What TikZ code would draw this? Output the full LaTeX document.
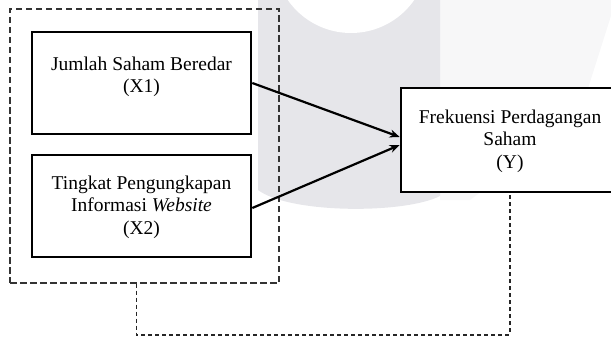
\documentclass[tikz,border=0pt]{standalone}
\usepackage{fontspec}
\setmainfont{Liberation Serif}
\usetikzlibrary{arrows.meta,calc}
\definecolor{wmgray}{HTML}{E6E6EA}
\definecolor{wmlight}{HTML}{F7F7F8}
\tikzset{
  varbox/.style={draw=black, line width=2.6pt, fill=white, rectangle, inner sep=0pt,
    minimum width=219pt, minimum height=102pt},
  grpbox/.style={draw=black!80, line width=1.2pt, dash pattern=on 6.5pt off 3.5pt, rectangle, inner sep=0pt},
  lbl/.style={align=center, font=\fontsize{19.5pt}{22.5pt}\selectfont, inner sep=0pt, text=black},
  arr/.style={line width=2.2pt, black, -{Stealth[length=10pt,width=8pt]}},
  linkline/.style={draw=black!85, line width=1.8pt, dash pattern=on 4pt off 3pt}
}
\begin{document}
\begin{tikzpicture}[x=1pt,y=-1pt]
\useasboundingbox (0,0) rectangle (611,337);
% faint watermark
\fill[wmlight] (440,0) -- (616,0) -- (578,120) -- (470,200) -- (440,200) -- cycle;
\fill[wmgray] (258,0) -- (258,190) .. controls (290,214) and (405,214) .. (440,196) -- (440,0) -- cycle;
\fill[white] (351,-44) circle (77);
% group
\node[grpbox, minimum width=269pt, minimum height=274pt] (grp) at (144.5,146) {};
\node[varbox] (b1) at (141.5,83) {};
\node[lbl] (t1) at (141.5,77) {Jumlah Saham Beredar\\(X1)};
\node[varbox] (b2) at (141.5,206) {};
\node[lbl] (t2) at (141.5,207) {Tingkat Pengungkapan\\Informasi \textit{Website}\\(X2)};
\node[varbox, minimum width=218pt, minimum height=104pt] (y) at (510,140) {};
\node[lbl] (ty) at (510,141) {Frekuensi Perdagangan\\Saham\\(Y)};
% arrows
\coordinate (yin1) at ($(y.west)+(0,-3)$);
\coordinate (yin2) at ($(y.west)+(0,5)$);
\draw[arr] (b1.east) -- (yin1);
\draw[arr] ($(b2.east)+(0,2)$) -- (yin2);
% dashed link
\coordinate (gout) at ($(grp.south west)+(127,0)$);
\coordinate (yout) at (y.south);
\coordinate (c1) at ($(gout)+(0,51)$);
\draw[linkline] (gout) -- (c1) -- (c1 -| yout) -- (yout);
\end{tikzpicture}
\end{document}
